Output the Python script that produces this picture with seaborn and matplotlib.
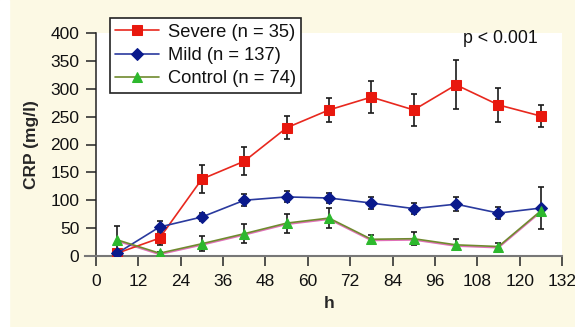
import numpy as np
import pandas as pd
import matplotlib
matplotlib.use("Agg")
import matplotlib.pyplot as plt
import matplotlib.transforms as mtransforms
import seaborn as sns

hours = [6, 18, 30, 42, 54, 66, 78, 90, 102, 114, 126]
severe = [5, 32, 138, 170, 230, 262, 285, 262, 307, 271, 251]
severe_err = [0, 12, 25, 25, 21, 22, 29, 29, 44, 30, 20]
mild = [5, 52, 70, 100, 106, 104, 95, 85, 93, 77, 86]
mild_err = [0, 11, 8, 11, 10, 9, 10, 10, 13, 11, 37]
control = [29, 5, 22, 40, 59, 68, 30, 31, 20, 17, 81]
control_err = [25, 3, 13, 17, 17, 18, 8, 12, 10, 6, 5]
labels = ["Severe (n = 35)", "Mild (n = 137)", "Control (n = 74)"]
xticks = list(range(0, 133, 12))
yticks = list(range(0, 401, 50))

sns.set_theme(style="white")
plt.rcParams["font.family"] = ["Liberation Sans", "DejaVu Sans"]

fig = plt.figure(figsize=(5.75, 3.27), dpi=100, facecolor="#FCF9E4")
fig.patches.append(plt.Rectangle((0, 0), 9 / 575, 1, transform=fig.transFigure,
                                 color="white", zorder=-1))
ax = fig.add_axes([96 / 575, 1 - 256 / 327, 466 / 575, 223 / 327])
ax.set_facecolor("white")

df = pd.DataFrame({
    "h": hours * 3,
    "crp": severe + mild + control,
    "group": [labels[0]] * len(hours) + [labels[1]] * len(hours) + [labels[2]] * len(hours),
})

line_colors = {labels[0]: "#E8281E", labels[1]: "#2A3A9E", labels[2]: "#3CB43C"}
marker_colors = {labels[0]: "#E8180E", labels[1]: "#0A1A8C", labels[2]: "#2DB82D"}
markers = {labels[0]: "s", labels[1]: "D", labels[2]: "^"}
msize = {labels[0]: 6.5, labels[1]: 6.0, labels[2]: 7.0}

# error bars (behind)
for vals, errs in [(severe, severe_err), (mild, mild_err), (control, control_err)]:
    ax.errorbar(hours, vals, yerr=errs, fmt="none", ecolor="#1a1a1a",
                elinewidth=1.2, capsize=2.5, capthick=1.2, zorder=2)

# pink shadow line beneath control
sub = df[df.group == labels[2]]
off = mtransforms.offset_copy(ax.transData, fig=fig, x=0, y=-1.2, units="dots")
ax.plot(sub.h, sub.crp, color="#E070B8", lw=1.2, zorder=2.5, transform=off)

for lab in labels:
    s = df[df.group == lab]
    sns.lineplot(data=s, x="h", y="crp", ax=ax, color=line_colors[lab], lw=1.2,
                 marker=markers[lab], markersize=msize[lab],
                 markerfacecolor=marker_colors[lab], markeredgecolor=marker_colors[lab],
                 label=lab, zorder=3)
ax.lines[-1].set_color("#6F8A2E")
ax.lines[-1].set_markerfacecolor(marker_colors[labels[2]])
ax.lines[-1].set_markeredgecolor(marker_colors[labels[2]])

ax.set_xlim(0, 132)
ax.set_ylim(0, 400)
ax.set_xticks(xticks)
ax.set_yticks(yticks)
ax.tick_params(axis="both", which="both", direction="out", length=7, width=1.1,
               color="#222222", labelsize=12.5, bottom=True, left=True,
               labelcolor="#111111")
ax.tick_params(axis="x", pad=6)
ax.tick_params(axis="y", pad=5)
for sp in ["top", "right"]:
    ax.spines[sp].set_visible(False)
ax.spines["left"].set_color("#222222")
ax.spines["left"].set_linewidth(1.1)
ax.spines["bottom"].set_color("#777777")
ax.spines["bottom"].set_linewidth(1.5)
ax.spines["bottom"].set_bounds(-3.2, 132)
ax.spines["left"].set_bounds(0, 400)

ax.set_xlabel("h", fontsize=12.5, fontweight="bold", labelpad=5)
ax.set_ylabel("CRP (mg/l)", fontsize=12.5, fontweight="bold", labelpad=8)

ax.text(104, 391, "p < 0.001", fontsize=12.8, ha="left", va="center", color="#111111")

h, l = ax.get_legend_handles_labels()
leg = ax.legend(h, l, loc="upper left", bbox_to_anchor=(0.03, 1.067), borderaxespad=0,
                fontsize=13.2, frameon=True, fancybox=False, edgecolor="#222222",
                facecolor="white", framealpha=1, labelspacing=0.35, handlelength=2.4,
                handletextpad=0.45, borderpad=0.3)
leg.get_frame().set_linewidth(1.2)
leg.set_zorder(10)
for t in leg.get_texts():
    t.set_color("#111111")

fig.savefig("out.png", dpi=100, facecolor=fig.get_facecolor())
